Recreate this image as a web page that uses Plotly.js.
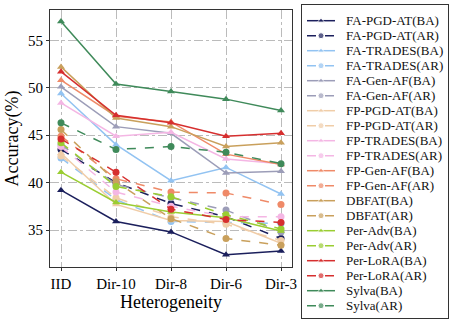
<!DOCTYPE html>
<html>
<head>
<meta charset="utf-8">
<script src="https://cdn.plot.ly/plotly-3.0.1.min.js"></script>
<style>
  html, body { margin: 0; padding: 0; background: white; }
  #chart { width: 457px; height: 325px; }
</style>
</head>
<body>
<div id="chart"></div>
<script>
var categories = ['IID', 'Dir-10', 'Dir-8', 'Dir-6', 'Dir-3'];

// accuracy values, one array per series
var faPgdAtBA = [39.2, 35.9, 34.8, 32.4, 32.8];
var faPgdAtAR = [43.5, 40.0, 37.8, 36.4, 34.1];
var faTradesBA = [49.4, 44.0, 40.2, 41.6, 38.8];
var faTradesAR = [42.6, 38.2, 35.9, 35.8, 35.7];
var faGenAfBA = [50.1, 45.9, 45.2, 41.0, 41.2];
var faGenAfAR = [44.0, 39.8, 38.4, 37.1, 34.8];
var fpPgdAtBA = [43.1, 37.7, 36.0, 35.9, 33.6];
var fpPgdAtAR = [42.8, 38.4, 36.4, 35.6, 33.9];
var fpTradesBA = [48.4, 44.9, 45.3, 42.5, 42.0];
var fpTradesAR = [43.8, 39.0, 37.5, 36.4, 36.4];
var fpGenAfBA = [50.8, 47.0, 46.4, 43.0, 41.9];
var fpGenAfAR = [44.9, 40.4, 39.0, 38.9, 37.7];
var dbfatBA = [52.2, 46.8, 45.9, 43.8, 44.2];
var dbfatAR = [45.6, 40.1, 36.2, 34.1, 33.4];
var perAdvBA = [41.1, 37.9, 36.9, 36.3, 34.9];
var perAdvAR = [44.2, 39.6, 38.5, 36.6, 35.1];
var perLoraBA = [51.7, 47.1, 46.3, 44.9, 45.2];
var perLoraAR = [44.6, 41.1, 37.2, 36.1, 35.8];
var sylvaBA = [57.0, 50.4, 49.6, 48.8, 47.6];
var sylvaAR = [46.3, 43.5, 43.8, 43.2, 42.0];

var methods = ['FA-PGD-AT', 'FA-TRADES', 'FA-Gen-AF', 'FP-PGD-AT', 'FP-TRADES',
               'FP-Gen-AF', 'DBFAT', 'Per-Adv', 'Per-LoRA', 'Sylva'];
var colors = ['#1b1f5c', '#92c3f2', '#9c9db8', '#f0cda8', '#f4b6e4',
              '#ef8a68', '#c9a05c', '#9acd32', '#d62f2f', '#3f8a5a'];
var baSeries = [faPgdAtBA, faTradesBA, faGenAfBA, fpPgdAtBA, fpTradesBA,
                fpGenAfBA, dbfatBA, perAdvBA, perLoraBA, sylvaBA];
var arSeries = [faPgdAtAR, faTradesAR, faGenAfAR, fpPgdAtAR, fpTradesAR,
                fpGenAfAR, dbfatAR, perAdvAR, perLoraAR, sylvaAR];

var serif = 'Liberation Serif, Times New Roman, serif';

var traces = [];
var annotations = [];
// legend lives on its own hidden axes (x2/y2), one row per series, 15px apart
var row = 0;
function addSeries(name, ys, color, dashed) {
  var line = {color: color, width: 1.5, dash: dashed ? 'dash' : 'solid'};
  var symbol = dashed ? 'circle' : 'triangle-up';
  traces.push({
    x: categories, y: ys, mode: 'lines+markers', name: name,
    line: line, marker: {symbol: symbol, size: 7, color: color},
    xaxis: 'x', yaxis: 'y'
  });
  var ry = 15.7 + row * 15;
  traces.push({
    x: [5, 19, 33], y: [ry, ry, ry], mode: 'lines+markers',
    line: line, marker: {symbol: symbol, size: [0, 6, 0], color: color},
    xaxis: 'x2', yaxis: 'y2'
  });
  annotations.push({
    xref: 'x2', yref: 'y2', x: 42, y: ry, text: name,
    xanchor: 'left', yanchor: 'middle', showarrow: false,
    font: {size: 13, family: serif, color: '#111'}
  });
  row++;
}
for (var i = 0; i < methods.length; i++) {
  addSeries(methods[i] + '(BA)', baSeries[i], colors[i], false);
  addSeries(methods[i] + '(AR)', arSeries[i], colors[i], true);
}

// paper spans y 5..318 and x 50..452 in pixels
var layout = {
  width: 457, height: 325,
  margin: {l: 50, r: 5, t: 5, b: 7},
  plot_bgcolor: 'white',
  paper_bgcolor: 'white',
  font: {family: serif, color: 'black'},
  showlegend: false,
  xaxis: {
    type: 'category',
    domain: [0, 242 / 402],
    range: [-0.2, 4.2],
    showline: true, mirror: true, linecolor: '#333', linewidth: 1,
    showgrid: true, gridcolor: '#bbbbbb', griddash: 'dashdot', gridwidth: 1,
    ticks: 'outside', ticklen: 3, tickcolor: '#333',
    tickfont: {size: 15, family: serif},
    title: {text: 'Heterogeneity', font: {size: 18, family: serif}, standoff: 4},
    zeroline: false
  },
  yaxis: {
    domain: [51 / 313, 308 / 313],
    range: [31.1, 58.2],
    tickvals: [35, 40, 45, 50, 55],
    showline: true, mirror: true, linecolor: '#333', linewidth: 1,
    showgrid: true, gridcolor: '#bbbbbb', griddash: 'dashdot', gridwidth: 1,
    ticks: 'outside', ticklen: 3, tickcolor: '#333',
    tickfont: {size: 15, family: serif},
    title: {text: 'Accuracy(%)', font: {size: 18, family: serif}, standoff: 4},
    zeroline: false
  },
  xaxis2: {
    domain: [252 / 402, 398 / 402], range: [0, 146], anchor: 'y2',
    showline: true, mirror: true, linecolor: '#333', linewidth: 1,
    showgrid: false, zeroline: false, showticklabels: false, ticks: ''
  },
  yaxis2: {
    domain: [0, 1], range: [313, 0], anchor: 'x2',
    showline: true, mirror: true, linecolor: '#333', linewidth: 1,
    showgrid: false, zeroline: false, showticklabels: false, ticks: ''
  },
  annotations: annotations
};

Plotly.newPlot('chart', traces, layout, {displayModeBar: false, staticPlot: true});
</script>
</body>
</html>
